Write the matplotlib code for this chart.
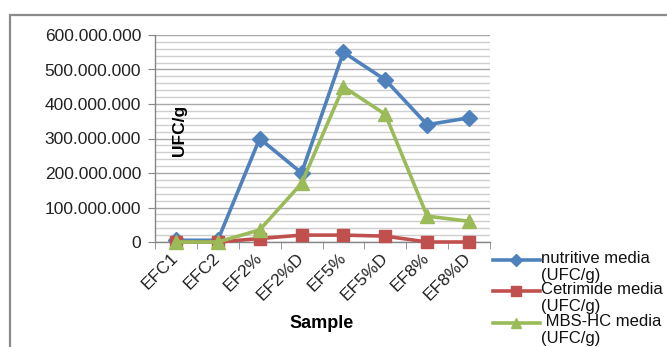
import matplotlib
matplotlib.use("Agg")
import matplotlib.pyplot as plt
from matplotlib.lines import Line2D
from matplotlib.patches import Rectangle
from matplotlib.ticker import MultipleLocator, FuncFormatter, FixedLocator

plt.rcParams['font.family'] = ['Liberation Sans', 'DejaVu Sans']

# muestras y recuentos (UFC/g)
samples = ['EFC1', 'EFC2', 'EF2%', 'EF2%D', 'EF5%', 'EF5%D', 'EF8%', 'EF8%D']
nutritive = [5e6, 5e6, 300e6, 200e6, 550e6, 470e6, 340e6, 360e6]
cetrimide = [0, 0, 10e6, 20e6, 20e6, 17e6, 0, 0]
mbs_hc = [0, 0, 35e6, 170e6, 450e6, 370e6, 75e6, 60e6]

series_labels = ['nutritive media\n(UFC/g)', 'Cetrimide media\n(UFC/g)', ' MBS-HC media\n(UFC/g)']
colors = ['#4F81BD', '#C0504D', '#9BBB59']
markers = ['D', 's', '^']
msizes = [8, 9, 10]

W, H = 667, 347
fig = plt.figure(figsize=(W / 100, H / 100), dpi=100)
ax = fig.add_axes([155 / W, 1 - 242 / H, 335 / W, 207 / H])

x = list(range(len(samples)))
for vals, c, m, ms in zip([nutritive, cetrimide, mbs_hc], colors, markers, msizes):
    ax.plot(x, vals, color=c, lw=2.6, marker=m, ms=ms, mec=c, mfc=c, clip_on=False, zorder=3)

ax.set_xlim(-0.5, len(samples) - 0.5)
ax.set_ylim(0, 600e6)

# eje y: principales cada 100 millones, secundarias cada 20
ax.yaxis.set_major_locator(MultipleLocator(100e6))
ax.yaxis.set_minor_locator(MultipleLocator(20e6))
ax.yaxis.set_major_formatter(FuncFormatter(lambda v, p: f"{int(v):,}".replace(',', '.')))
ax.grid(which='major', axis='y', color='#a8a8a8', lw=1)
ax.grid(which='minor', axis='y', color='#cfcfcf', lw=1)
ax.set_axisbelow(True)

ax.set_xticks(x)
ax.set_xticklabels(samples, rotation=45, ha='right', va='center', rotation_mode='anchor')
ax.xaxis.set_minor_locator(FixedLocator([i - 0.5 for i in range(len(samples) + 1)]))
ax.tick_params(axis='x', which='major', length=0, pad=10, labelsize=12.5, colors='#222222')
ax.tick_params(axis='x', which='minor', length=5, color='#868686', direction='out')
ax.tick_params(axis='y', which='major', length=5, color='#868686', pad=5, labelsize=12.5,
               labelcolor='#222222')
ax.tick_params(axis='y', which='minor', length=0)

for s in ['top', 'right']:
    ax.spines[s].set_visible(False)
for s in ['left', 'bottom']:
    ax.spines[s].set_color('#868686')
    ax.spines[s].set_linewidth(1)

ax.text(180 / W, 1 - 130 / H, 'UFC/g', transform=fig.transFigure, rotation=90,
        ha='center', va='center', fontsize=12.5, fontweight='bold')
fig.text(322 / W, 1 - 324 / H, 'Sample', ha='center', va='center', fontsize=13,
         fontweight='bold')

# leyenda a la derecha
rows = [260, 291, 323]
for lab, c, m, yy in zip(series_labels, colors, markers, rows):
    yf = 1 - yy / H
    fig.add_artist(Line2D([493 / W, 516 / W, 540 / W], [yf, yf, yf], transform=fig.transFigure,
                          color=c, lw=2.6, marker=m, ms=6.5, markevery=[1], mec=c, mfc=c))
    fig.text(541 / W, yf + 9 / H, lab, ha='left', va='top', fontsize=12, linespacing=1.2,
             color='#111111')

# marco del gráfico
fig.add_artist(Rectangle((10 / W, -0.1), 1.2, 1.1 - 15 / H, transform=fig.transFigure,
                         fill=False, ec='#8a8a8a', lw=1.6))

fig.savefig('out.png', dpi=100)
